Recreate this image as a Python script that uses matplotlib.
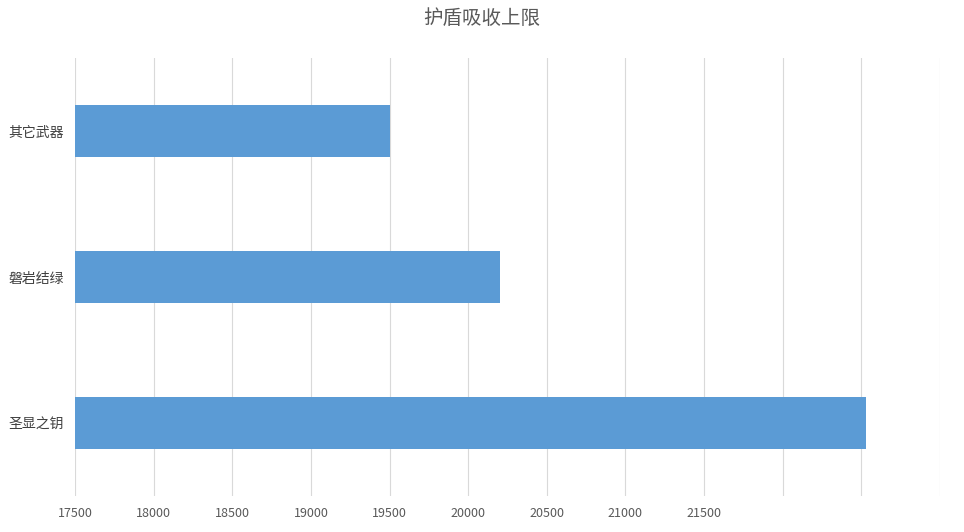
import matplotlib
matplotlib.use("Agg")
import matplotlib.pyplot as plt

plt.rcParams['font.family'] = ['Noto Sans CJK SC', 'DejaVu Sans']

categories = ["圣显之钥", "磐岩结绿", "其它武器"]
values = [22530, 20200, 19500]
ticks = list(range(17500, 23001, 500))
tick_labels = [str(t) if t <= 21500 else "" for t in ticks]

fig = plt.figure(figsize=(9.64, 5.32), dpi=100)
ax = fig.add_axes([75 / 964, 1 - 496 / 532, 865 / 964, 438 / 532])

ax.barh(range(len(categories)), [v - 17500 for v in values], left=17500,
        height=0.36, color="#5B9BD5", zorder=2)
ax.set_xlim(17500, 23000)
ax.set_ylim(-0.5, 2.5)
ax.set_xticks(ticks)
ax.set_xticklabels(tick_labels, fontsize=9, color="#595959")
ax.set_yticks(range(len(categories)))
ax.set_yticklabels(categories, fontsize=10, color="#404040")
ax.grid(axis="x", color="#d9d9d9", linewidth=0.8, zorder=0)
for s in ["top", "right", "left", "bottom"]:
    ax.spines[s].set_visible(False)
ax.tick_params(length=0, pad=8)

fig.suptitle("护盾吸收上限", y=0.985, fontsize=14, color="#595959")
fig.savefig("out.png")
